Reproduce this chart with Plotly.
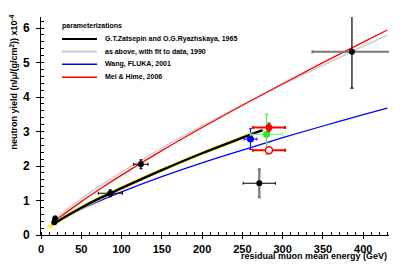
import plotly.graph_objects as go

# ---------------- data ----------------
zr_E = [16, 25, 50, 75, 100, 150, 200, 250, 275]
zr_Y = [0.32, 0.455, 0.79, 1.09, 1.36, 1.88, 2.37, 2.82, 3.04]

band_E = [9, 16, 25, 50, 75, 100, 150, 200, 250, 265]
band_Y = [0.21, 0.32, 0.455, 0.79, 1.09, 1.36, 1.88, 2.37, 2.82, 2.95]

fit_E = [15, 25, 50, 75, 100, 150, 200, 250, 300, 350, 400, 430]
fit_Y = [0.405, 0.607, 1.05, 1.45, 1.82, 2.52, 3.16, 3.77, 4.36, 4.92, 5.47, 5.80]

wang_E = [12, 25, 50, 75, 100, 150, 200, 250, 300, 350, 400, 430]
wang_Y = [0.26, 0.448, 0.749, 1.01, 1.25, 1.69, 2.09, 2.46, 2.82, 3.16, 3.49, 3.68]

mei_E = [15, 25, 50, 75, 100, 150, 200, 250, 300, 350, 400, 430]
mei_Y = [0.351, 0.54, 0.968, 1.364, 1.737, 2.445, 3.115, 3.762, 4.386, 4.995, 5.591, 5.943]

# measurements
blk_E = [16.5, 17.5, 86, 124]
blk_Y = [0.37, 0.47, 1.21, 2.05]
blk_dE = [2, 2, 15, 9]
blk_dY = [0.05, 0.08, 0.1, 0.13]

lvd_E = [271]
lvd_Y = [1.50]
lvd_dE = [20]
lvd_dY = [0.40]

deep_E = [386]
deep_Y = [5.31]
deep_dE = [49]
deep_dY = [1.05]

blue_E = [260]
blue_Y = [2.78]
blue_dE = [8]
blue_dY = [0.30]

green_E = [280]
green_Y = [2.92]
green_dE = [20]
green_dY = [0.58]

redf_E = [283]
redf_Y = [3.12]
redf_dE = [20]
redf_dY = [0.12]

redo_E = [283]
redo_Y = [2.46]
redo_dE = [20]
redo_dY = [0.05]

legend_labels = ["G.T.Zatsepin and O.G.Ryazhskaya, 1965",
                 "as above, with fit to data, 1990",
                 "Wang, FLUKA, 2001",
                 "Mei & Hime, 2006"]
legend_colors = ["#000000", "#d0d0d0", "#0000ff", "#ff0000"]
legend_widths = [2.2, 2.2, 1.5, 1.5]

x_ticks = [0, 50, 100, 150, 200, 250, 300, 350, 400]
y_ticks = [0, 1, 2, 3, 4, 5, 6]

FONT = "Liberation Sans"

fig = go.Figure()

def curve(E, Y, color, width):
    fig.add_trace(go.Scatter(x=E, y=Y, mode="lines", line=dict(color=color, width=width, shape="spline"),
                             showlegend=False, hoverinfo="skip"))

curve(fit_E, fit_Y, "#d0d0d0", 1.6)
curve(mei_E, mei_Y, "#ff0000", 1.3)
curve(wang_E, wang_Y, "#0000ff", 1.3)
curve(band_E, band_Y, "rgba(255,240,60,0.8)", 4)
curve(zr_E, zr_Y, "#000000", 2.4)

def pts(E, Y, dE, dY, mcolor, ex_color, ey_color, ex_w, ey_w, size=6, line=None):
    fig.add_trace(go.Scatter(
        x=E, y=Y, mode="markers",
        marker=dict(color=mcolor, size=size, symbol="circle",
                    line=line if line else dict(width=0)),
        error_x=dict(type="data", array=dE, color=ex_color, thickness=ex_w, width=1.5),
        error_y=dict(type="data", array=dY, color=ey_color, thickness=ey_w, width=1.5),
        showlegend=False, hoverinfo="skip"))

pts(blk_E, blk_Y, blk_dE, blk_dY, "#000000", "#000000", "#000000", 1, 1.2)
pts(lvd_E, lvd_Y, lvd_dE, lvd_dY, "#000000", "#000000", "#777777", 1, 2.2)
pts(deep_E, deep_Y, deep_dE, deep_dY, "#000000", "#777777", "#000000", 2, 1.2)
pts(blue_E, blue_Y, blue_dE, blue_dY, "#0000ff", "#0000ff", "#0000ff", 1, 1, size=7)
pts(green_E, green_Y, green_dE, green_dY, "#22ee22", "#77ff77", "#55ee55", 1.3, 1.3, size=7)
pts(redf_E, redf_Y, redf_dE, redf_dY, "#ff0000", "#ff0000", "#ff0000", 2, 1.5, size=7)
pts(redo_E, redo_Y, redo_dE, redo_dY, "#ffffff", "#ff0000", "#ff0000", 2, 1.5, size=7,
    line=dict(color="#ff0000", width=1.5))

# ---------------- layout geometry (window pixels; page body has an 8px margin) ----------------
OFF = 8
W, H = 417, 266
L, R, T, B = 41, 389, 17, 235
def px(x):
    return (x - L) / (R - L)
def py(y):
    return (B - y) / (B - T)

ann = []
ann.append(dict(x=px(60), y=py(26), xref="paper", yref="paper", text="parameterizations",
                showarrow=False, xanchor="left", yanchor="middle",
                font=dict(family=FONT, size=7, color="black", weight="bold")))
rows = [39, 51.7, 64.3, 77.3]
shapes = []
for i, r in enumerate(rows):
    shapes.append(dict(type="line", xref="paper", yref="paper", x0=px(62), x1=px(97), y0=py(r), y1=py(r),
                       line=dict(color=legend_colors[i], width=legend_widths[i])))
    ann.append(dict(x=px(103), y=py(r), xref="paper", yref="paper", text=legend_labels[i],
                    showarrow=False, xanchor="left", yanchor="middle",
                    font=dict(family=FONT, size=7, color="black", weight="bold")))

# axis titles
ann.append(dict(x=px(13), y=py(13), xref="paper", yref="paper",
                text="neutron yield (n/\u03bc/(g/cm<sup>2</sup>)) x10<sup>-4</sup>",
                textangle=-90, showarrow=False, xanchor="center", yanchor="top",
                font=dict(family=FONT, size=9, color="black", weight="bold")))
ann.append(dict(x=1.0, y=py(256.5), xref="paper", yref="paper",
                text="residual muon mean energy (GeV)",
                showarrow=False, xanchor="right", yanchor="middle",
                font=dict(family=FONT, size=9, color="black", weight="bold")))

fig.update_layout(
    width=W - OFF, height=H - OFF,
    margin=dict(l=L - OFF, r=W - R, t=T - OFF, b=H - B, pad=0, autoexpand=False),
    plot_bgcolor="white", paper_bgcolor="white",
    annotations=ann, shapes=shapes, showlegend=False,
    font=dict(family=FONT, color="black"),
)
fig.update_xaxes(range=[0, 432], showgrid=False, zeroline=False, showline=True, linecolor="black", linewidth=1,
                 automargin=False,
                 tickvals=x_ticks, ticks="outside", ticklen=3, tickcolor="black", ticklabelstandoff=1,
                 tickfont=dict(family=FONT, size=11, color="black", weight="bold"),
                 minor=dict(dtick=10, ticks="inside", ticklen=3, tickcolor="black", showgrid=False))
fig.update_yaxes(range=[0, 6.32], showgrid=False, zeroline=False, showline=True, linecolor="black", linewidth=1,
                 automargin=False,
                 tickvals=y_ticks, ticks="outside", ticklen=4, tickcolor="black", ticklabelstandoff=4,
                 tickfont=dict(family=FONT, size=12, color="black", weight="bold"),
                 minor=dict(dtick=0.2, ticks="inside", ticklen=3, tickcolor="black", showgrid=False))

fig.write_html("out.html")
